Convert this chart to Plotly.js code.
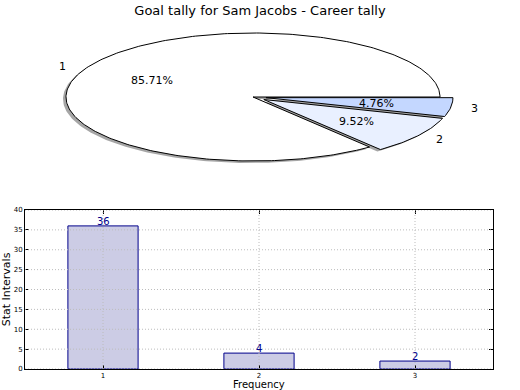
<!DOCTYPE html>
<html>
<head>
<meta charset="utf-8">
<script src="https://cdn.plot.ly/plotly-3.0.1.min.js"></script>
<style>html,body{margin:0;padding:0;background:#fff;}#chart{width:520px;height:390px;}</style>
</head>
<body>
<div id="chart"></div>
<script>
const chartTitle = 'Goal tally for Sam Jacobs - Career tally';
const xTitle = 'Frequency';
const yTitle = 'Stat Intervals';
const categories = ['1', '2', '3'];
const values = [36, 4, 2];
const explode = [0, 0.07, 0.07];
const sliceColors = ['#ffffff', '#e9f0ff', '#c4d7ff'];
const yTicks = [0, 5, 10, 15, 20, 25, 30, 35, 40];
const xTicks = [1, 2, 3];

const FONT = 'DejaVu Sans, sans-serif';
const total = values.reduce((a, b) => a + b, 0);
const rad = d => d * Math.PI / 180;

// shadow offset in pie units (x unit = 187px, y unit = 64px)
const shX = -3 / 187, shY = -2 / 64;

const shadows = [], slices = [], pieAnn = [];
let start = 0;
values.forEach((v, i) => {
  const t1 = start, t2 = start + 360 * v / total;
  const mid = rad((t1 + t2) / 2);
  const ox = explode[i] * Math.cos(mid), oy = explode[i] * Math.sin(mid);
  const xs = [ox], ys = [oy];
  const n = Math.max(4, Math.ceil((t2 - t1) / 1));
  for (let k = 0; k <= n; k++) {
    const t = rad(t1 + (t2 - t1) * k / n);
    xs.push(ox + Math.cos(t));
    ys.push(oy + Math.sin(t));
  }
  xs.push(ox); ys.push(oy);
  shadows.push({
    type: 'scatter', mode: 'lines', xaxis: 'x2', yaxis: 'y2',
    x: xs.map(p => p + shX), y: ys.map(p => p + shY),
    fill: 'toself', fillcolor: 'rgba(77,77,77,0.5)',
    line: {width: 0, color: 'rgba(0,0,0,0)'}, hoverinfo: 'skip', showlegend: false
  });
  slices.push({
    type: 'scatter', mode: 'lines', xaxis: 'x2', yaxis: 'y2',
    x: xs, y: ys, fill: 'toself', fillcolor: sliceColors[i],
    line: {width: 1, color: '#000000'}, hoverinfo: 'skip', showlegend: false
  });
  const c = Math.cos(mid), s = Math.sin(mid);
  pieAnn.push({
    xref: 'x2', yref: 'y2', x: ox + 1.1 * c, y: oy + 1.1 * s,
    text: categories[i], showarrow: false,
    xanchor: c > 0 ? 'left' : 'right', yanchor: 'middle',
    font: {family: FONT, size: 11, color: '#000'}
  });
  pieAnn.push({
    xref: 'x2', yref: 'y2', x: ox + 0.6 * c, y: oy + 0.6 * s,
    text: (100 * v / total).toFixed(2) + '%', showarrow: false,
    xanchor: 'center', yanchor: 'middle',
    font: {family: FONT, size: 11, color: '#000'}
  });
  start = t2;
});

const bars = {
  type: 'bar', xaxis: 'x', yaxis: 'y',
  x: categories.map(c => Number(c)), y: values, width: 0.45,
  marker: {color: '#ccccE5', line: {color: '#00008b', width: 1}},
  hoverinfo: 'skip', showlegend: false
};

const barAnn = values.map((v, i) => ({
  xref: 'x', yref: 'y', x: Number(categories[i]), y: v, text: String(v),
  showarrow: false, xanchor: 'center', yanchor: 'bottom', yshift: -3,
  font: {family: FONT, size: 10, color: '#00008b'}
}));

const titleAnn = [{
  xref: 'x domain', yref: 'paper', x: 0.5, y: 0, xanchor: 'center', yanchor: 'bottom',
  yshift: -1, borderpad: 0, text: xTitle, showarrow: false,
  font: {family: FONT, size: 10, color: '#000'}
}];

const gridLine = {color: '#bcbcbc', width: 1, dash: '1px,2px'};
const gridShapes = [];
yTicks.forEach(t => gridShapes.push({
  type: 'line', layer: 'above', xref: 'x domain', yref: 'y', x0: 0, x1: 1, y0: t, y1: t,
  line: gridLine
}));
xTicks.forEach(t => gridShapes.push({
  type: 'line', layer: 'above', xref: 'x', yref: 'y domain', x0: t, x1: t, y0: 0, y1: 1,
  line: gridLine
}));

const layout = {
  width: 520, height: 390,
  margin: {l: 0, r: 0, t: 0, b: 0},
  paper_bgcolor: '#ffffff', plot_bgcolor: 'rgba(0,0,0,0)',
  showlegend: false,
  title: {text: chartTitle, x: 0.5, xanchor: 'center', y: 1 - 10 / 390, yanchor: 'middle',
          font: {family: FONT, size: 13, color: '#000'}},
  xaxis: {
    domain: [25 / 520, 493 / 520], range: [0.5, 3.5], fixedrange: true,
    tickvals: xTicks, ticktext: categories, ticks: 'inside', ticklen: 4, tickcolor: '#000',
    showline: true, linecolor: '#000', linewidth: 1, mirror: 'allticks',
    showgrid: false, zeroline: false,
    tickfont: {family: FONT, size: 7, color: '#000'}
  },
  yaxis: {
    domain: [21 / 390, 180 / 390], range: [0, 40], fixedrange: true,
    tickvals: yTicks, ticks: 'inside', ticklen: 4, tickcolor: '#000',
    showline: true, linecolor: '#000', linewidth: 1, mirror: 'allticks',
    showgrid: false, zeroline: false,
    tickfont: {family: FONT, size: 7, color: '#000'},
    title: {text: yTitle, standoff: 3, font: {family: FONT, size: 11, color: '#000'}}
  },
  xaxis2: {
    domain: [0, 1], anchor: 'y2', range: [-253 / 187, 267 / 187],
    visible: false, fixedrange: true
  },
  yaxis2: {
    domain: [0.5, 1], anchor: 'x2', range: [-98 / 64, 97 / 64],
    visible: false, fixedrange: true
  },
  shapes: gridShapes,
  annotations: pieAnn.concat(barAnn).concat(titleAnn)
};

Plotly.newPlot('chart', shadows.concat(slices).concat([bars]), layout, {staticPlot: true, displayModeBar: false});
</script>
</body>
</html>
